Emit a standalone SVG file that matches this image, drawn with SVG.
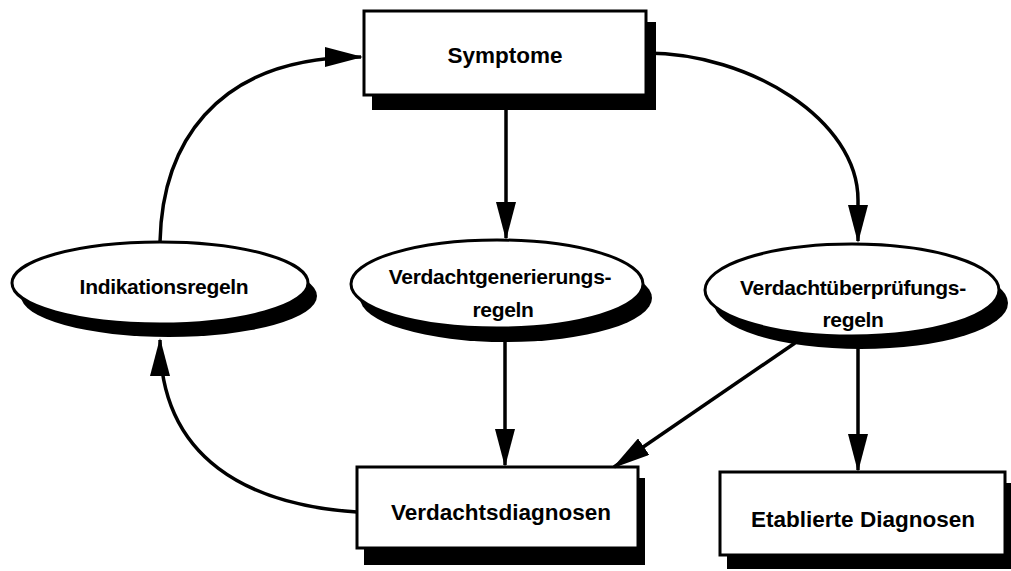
<svg xmlns="http://www.w3.org/2000/svg" width="1011" height="571" viewBox="0 0 1011 571">
<defs>
<marker id="arr" markerUnits="userSpaceOnUse" markerWidth="38" markerHeight="20" viewBox="0 0 38 20" refX="36" refY="10" orient="auto">
<path d="M0,0 L38,10 L0,20 z" fill="#000"/>
</marker>
<style>
.shadow{fill:#000}
.node{fill:#fff;stroke:#000;stroke-width:3}
.lbl{font-family:"Liberation Sans",Arial,Helvetica,sans-serif;font-weight:bold;font-size:21px;letter-spacing:-0.3px;fill:#000;text-anchor:middle}
.blbl{font-size:22.5px;letter-spacing:0}
.conn{fill:none;stroke:#000;stroke-width:3.5}
</style>
</defs>
<rect width="1011" height="571" fill="#fff"/>

<g id="symptome">
<rect class="shadow" x="372" y="22" width="284" height="88"/>
<rect class="node" x="364" y="11" width="282" height="84"/>
<text class="lbl blbl" x="505" y="63">Symptome</text>
</g>

<g id="indikationsregeln">
<ellipse class="shadow" cx="169" cy="296" rx="148" ry="41"/>
<ellipse class="node" cx="160" cy="283" rx="148" ry="41"/>
<text class="lbl" x="164" y="294">Indikationsregeln</text>
</g>

<g id="verdachtgenerierungsregeln">
<ellipse class="shadow" cx="506" cy="298" rx="146" ry="44"/>
<ellipse class="node" cx="497" cy="284" rx="146" ry="44"/>
<text class="lbl" x="500" y="284">Verdachtgenerierungs-</text>
<text class="lbl" x="503" y="317">regeln</text>
</g>

<g id="verdachtueberpruefungsregeln">
<ellipse class="shadow" cx="861" cy="303" rx="147" ry="46"/>
<ellipse class="node" cx="852" cy="290" rx="147" ry="46"/>
<text class="lbl" x="853" y="295">Verdachtüberprüfungs-</text>
<text class="lbl" x="853" y="327">regeln</text>
</g>

<g id="verdachtsdiagnosen">
<rect class="shadow" x="364" y="478" width="281" height="87"/>
<rect class="node" x="357" y="467" width="281" height="81"/>
<text class="lbl blbl" x="501" y="520">Verdachtsdiagnosen</text>
</g>

<g id="etablierte-diagnosen">
<rect class="shadow" x="727" y="483" width="284" height="86"/>
<rect class="node" x="720" y="472" width="285" height="83"/>
<text class="lbl blbl" x="863" y="527">Etablierte Diagnosen</text>
</g>

<g id="connectors">
<path class="conn" d="M160,242 C162,150 210,57 361,57" marker-end="url(#arr)"/>
<path class="conn" d="M646,53 C750,53 858,120 858,200 L858,241" marker-end="url(#arr)"/>
<path class="conn" d="M506,95 L506,238" marker-end="url(#arr)"/>
<path class="conn" d="M505,341 L505,465" marker-end="url(#arr)"/>
<path class="conn" d="M858,348 L858,470" marker-end="url(#arr)"/>
<path class="conn" d="M795,343 L614,467" marker-end="url(#arr)"/>
<path class="conn" d="M357,512 C250,505 160,460 160,340" marker-end="url(#arr)"/>
</g>
</svg>
